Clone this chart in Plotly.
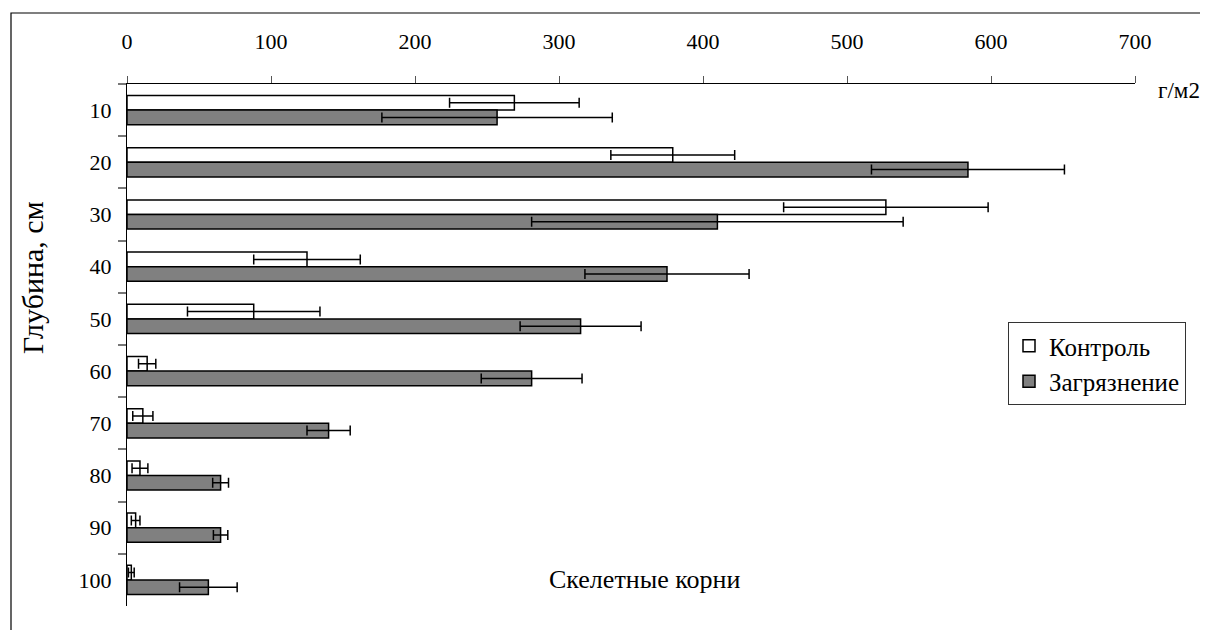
import plotly.graph_objects as go

depths = ["10", "20", "30", "40", "50", "60", "70", "80", "90", "100"]
control = [269, 379, 527, 125, 88, 14, 11, 9, 6, 3]
control_err = [45, 43, 71, 37, 46, 6, 7, 5.5, 3, 2]
polluted = [257, 584, 410, 375, 315, 281, 140, 65, 65, 56.5]
polluted_err = [80, 67, 129, 57, 42, 35, 15, 5.5, 5, 20]
x_ticks = [0, 100, 200, 300, 400, 500, 600, 700]

FONT = "Liberation Serif"
OFF = 8  # page body margin offset
W, H = 1208 - OFF, 630 - OFF
# target pixel positions in the screenshot
PL, PR, PT, PB = 127, 1135, 84, 606
L, T = PL - OFF, PT - OFF
R = W - (PR - OFF)
B = H - (PB - OFF)
PW, PH = W - L - R, H - T - B


def px_x(p):
    return (p - PL) / PW


def px_y(p):
    return (PB - p) / PH


fig = go.Figure()
fig.add_trace(go.Bar(
    name="Контроль", y=depths, x=control, orientation="h",
    marker=dict(color="white", line=dict(color="black", width=1.5)),
    error_x=dict(type="data", array=control_err, symmetric=True,
                 color="black", thickness=1.5, width=5),
    legendgroup="a",
))
fig.add_trace(go.Bar(
    name="Загрязнение", y=depths, x=polluted, orientation="h",
    marker=dict(color="#808080", line=dict(color="black", width=1.5)),
    error_x=dict(type="data", array=polluted_err, symmetric=True,
                 color="black", thickness=1.5, width=5),
    legendgroup="b",
))

fig.update_layout(
    width=W, height=H,
    margin=dict(l=L, r=R, t=T, b=B, pad=0),
    paper_bgcolor="white", plot_bgcolor="white",
    barmode="group", bargap=0.44, bargroupgap=0,
    font=dict(family=FONT, size=22, color="black"),
    showlegend=True,
    legend=dict(x=px_x(1008), y=px_y(322), xanchor="left", yanchor="top",
                bordercolor="#333", borderwidth=1, bgcolor="white",
                font=dict(family=FONT, size=25), tracegroupgap=0,
                itemwidth=30),
    xaxis=dict(side="top", range=[0, 700], tickvals=x_ticks,
               ticktext=[str(v) for v in x_ticks],
               showline=True, linecolor="black", linewidth=1.2,
               ticks="outside", ticklen=7, tickcolor="#555", tickwidth=1.2,
               ticklabelstandoff=18, showgrid=False, zeroline=False,
               tickfont=dict(family=FONT, size=22)),
    yaxis=dict(type="category", autorange="reversed",
               showline=True, linecolor="black", linewidth=1.2,
               ticks="outside", ticklen=8, tickcolor="#777", tickwidth=1.5,
               tickson="boundaries", ticklabelstandoff=10,
               showgrid=False, zeroline=False,
               tickfont=dict(family=FONT, size=22)),
)

fig.add_annotation(text="г/м2", xref="paper", yref="paper",
                   x=px_x(1156), y=px_y(90), xanchor="left", yanchor="middle",
                   showarrow=False, font=dict(family=FONT, size=23))
fig.add_annotation(text="Глубина, см", xref="paper", yref="paper",
                   x=px_x(32), y=px_y(278), xanchor="center", yanchor="middle",
                   textangle=-90, showarrow=False,
                   font=dict(family=FONT, size=30))
fig.add_annotation(text="Скелетные корни", xref="paper", yref="paper",
                   x=px_x(644), y=px_y(579), xanchor="center", yanchor="middle",
                   showarrow=False, font=dict(family=FONT, size=26))

fig.add_shape(type="rect", xref="paper", yref="paper",
              x0=px_x(11), x1=px_x(1240), y0=px_y(660), y1=px_y(13),
              line=dict(color="black", width=1.2), layer="below")

fig.write_html("out.html")
